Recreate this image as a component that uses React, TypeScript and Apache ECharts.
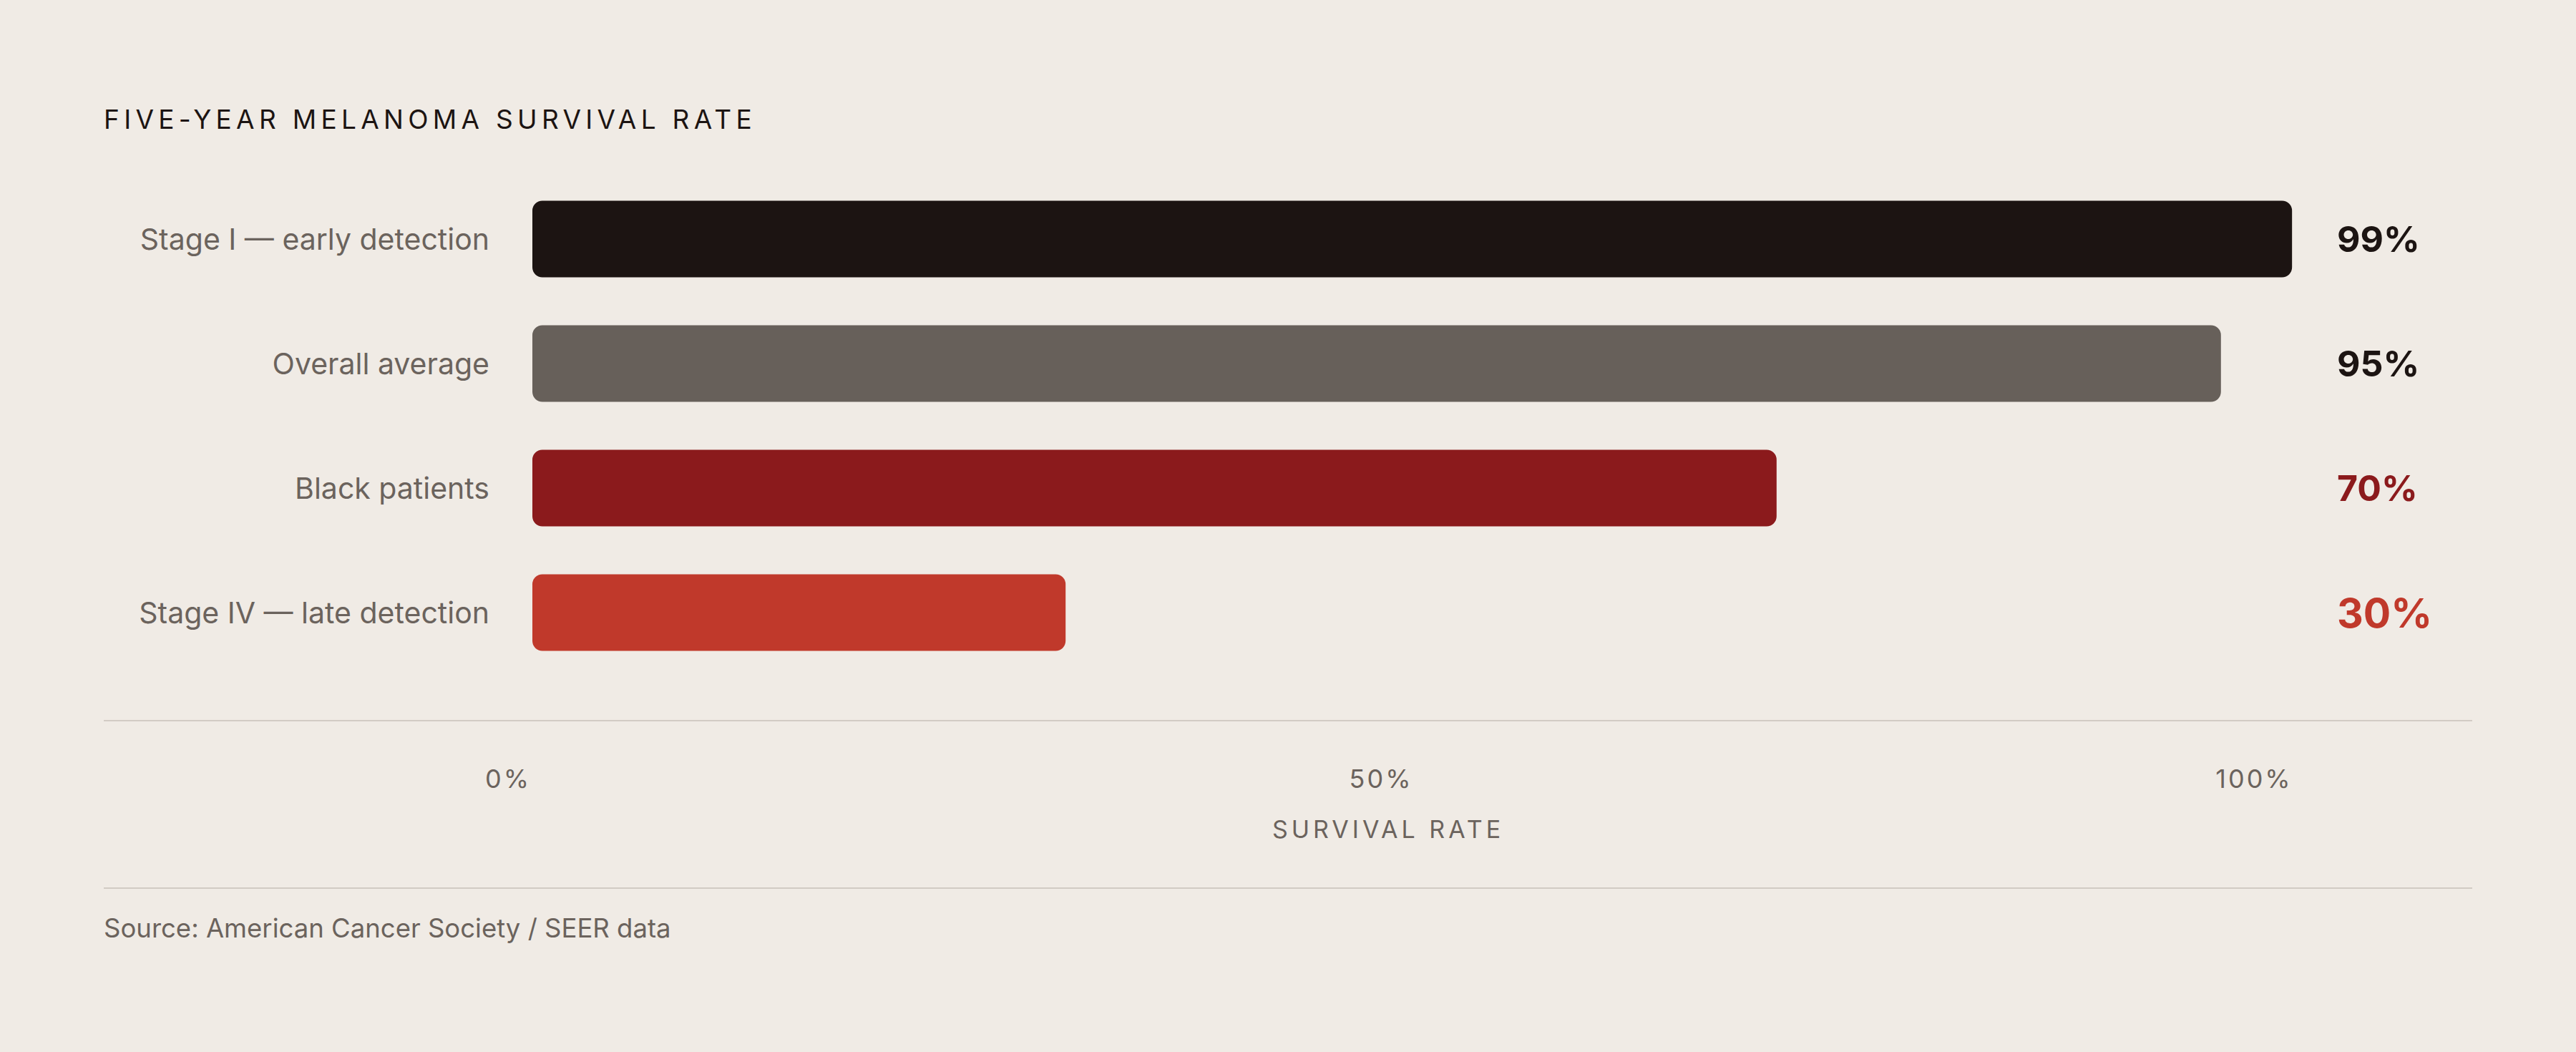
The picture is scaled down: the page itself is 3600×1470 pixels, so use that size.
import { useEffect, useRef } from 'react';
import * as echarts from 'echarts';

type EChartsOption = echarts.EChartsOption;

const categories = ['Stage I — early detection', 'Overall average', 'Black patients', 'Stage IV — late detection'];
const values = [99, 95, 70, 30];
const barColors = ['#1c1412', '#67605a', '#8b1a1c', '#c0392b'];
const labelColors = ['#1c1412', '#1c1412', '#8b1a1c', '#c0392b'];
const labelSizes = [50, 50, 50, 57];
const tickValues = [0, 50, 100];

const FONT = 'Inter, "Noto Sans", sans-serif';
const GREY = '#6b635d';

// texts that get CSS letter-spacing after render (ECharts has no letterSpacing option)
const spaced: Record<string, string> = {
  'FIVE-YEAR MELANOMA SURVIVAL RATE': '6.3px',
  'SURVIVAL RATE': '5px',
  '0%': '3px',
  '50%': '3px',
  '100%': '3px',
};

const App = () => {
  const chartRef = useRef<HTMLDivElement>(null);

  useEffect(() => {
    document.body.style.margin = '0';
    document.body.style.background = '#f0ebe5';
    if (!chartRef.current) return;
    const myChart = echarts.init(chartRef.current, undefined, { renderer: 'svg' });

    const rich: Record<string, any> = {};
    labelColors.forEach((c, i) => {
      rich['c' + i] = { color: c, fontSize: labelSizes[i], fontWeight: 700, fontFamily: FONT };
    });

    const option: EChartsOption = {
      animation: false,
      backgroundColor: '#f0ebe5',
      grid: [
        { left: 744, right: 372, top: 247, height: 696 },
        { left: 710, right: 450, top: 1000, height: 10 },
      ],
      xAxis: [
        { type: 'value', gridIndex: 0, min: 0, max: 100, show: false },
        {
          type: 'value',
          gridIndex: 1,
          min: 0,
          max: 100,
          interval: 50,
          axisLine: { show: false },
          axisTick: { show: false },
          splitLine: { show: false },
          axisLabel: {
            margin: 78,
            verticalAlign: 'middle',
            color: GREY,
            fontSize: 36,
            fontFamily: FONT,
            formatter: (v: number) => (tickValues.includes(v) ? v + '%' : ''),
          },
          name: 'SURVIVAL RATE',
          nameLocation: 'middle',
          nameGap: 148,
          nameTextStyle: { color: GREY, fontSize: 34, fontFamily: FONT, verticalAlign: 'middle', padding: [0, 0, 0, 20] },
        },
      ],
      yAxis: [
        {
          type: 'category',
          gridIndex: 0,
          data: categories,
          inverse: true,
          axisLine: { show: false },
          axisTick: { show: false },
          axisLabel: { margin: 60, color: GREY, fontSize: 41, fontFamily: FONT },
        },
        {
          type: 'category',
          gridIndex: 0,
          position: 'right',
          data: values.map((v) => v + '%'),
          inverse: true,
          axisLine: { show: false },
          axisTick: { show: false },
          axisLabel: {
            margin: 38,
            align: 'left',
            formatter: (v: string, i: number) => `{c${i}|${v}}`,
            rich,
          },
        },
        { type: 'value', gridIndex: 1, show: false },
      ],
      series: [
        {
          type: 'bar',
          xAxisIndex: 0,
          yAxisIndex: 0,
          barWidth: 107,
          data: values.map((v, i) => ({
            value: v,
            itemStyle: { color: barColors[i], borderRadius: 14 },
          })),
        },
      ],
      graphic: [
        {
          type: 'text',
          left: 145,
          top: 148,
          style: {
            text: 'FIVE-YEAR MELANOMA SURVIVAL RATE',
            fill: '#1c1412',
            font: `400 37px ${FONT}`,
          },
        },
        {
          type: 'line',
          shape: { x1: 145, y1: 1007, x2: 3455, y2: 1007 },
          style: { stroke: '#d2cbc4', lineWidth: 2 },
        },
        {
          type: 'line',
          shape: { x1: 145, y1: 1241, x2: 3455, y2: 1241 },
          style: { stroke: '#d2cbc4', lineWidth: 2 },
        },
        {
          type: 'text',
          left: 145,
          top: 1278,
          style: {
            text: 'Source: American Cancer Society / SEER data',
            fill: GREY,
            font: `400 36.5px ${FONT}`,
          },
        },
      ],
    };

    myChart.setOption(option);

    chartRef.current.querySelectorAll('text').forEach((t) => {
      const s = spaced[(t.textContent || '').trim()];
      if (s) (t as SVGTextElement).style.letterSpacing = s;
    });

    return () => {
      myChart.dispose();
    };
  }, []);

  return <div ref={chartRef} style={{ width: '3600px', height: '1470px' }} />;
};

export default App;
